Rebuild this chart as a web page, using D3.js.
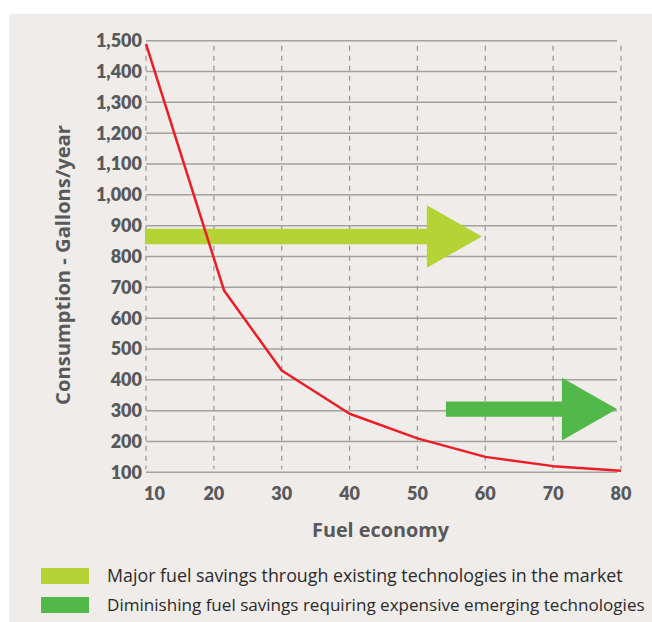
<!DOCTYPE html>
<html>
<head>
<meta charset="utf-8">
<script src="https://cdn.jsdelivr.net/npm/d3@7"></script>
<style>
  html, body { margin: 0; padding: 0; background: #ffffff; }
  svg { display: block; }
  text { font-family: Lato, "Open Sans", sans-serif; }
</style>
</head>
<body>
<svg id="chart" width="652" height="622"></svg>
<script>
// ---- data ----
const fuelEconomy = [10, 21.5, 30, 40, 50, 60, 70, 80];
const consumption = [1490, 690, 430, 290, 210, 150, 120, 105];
const xTicks = [10, 20, 30, 40, 50, 60, 70, 80];
const yTicks = [100, 200, 300, 400, 500, 600, 700, 800, 900, 1000, 1100, 1200, 1300, 1400, 1500];
const arrowStartX = [9.85, 54.2];
const arrowEndX = [59.5, 79.4];
const arrowY = [865, 305];
const legendLabels = [
  "Major fuel savings through existing technologies in the market",
  "Diminishing fuel savings requiring expensive emerging technologies"
];
const legendColors = ["#b5d334", "#52b84a"];
const xTitle = "Fuel economy";
const yTitle = "Consumption - Gallons/year";

// ---- drawing ----
const svg = d3.select("#chart");
svg.append("rect").attr("x", 9).attr("y", 14).attr("width", 643).attr("height", 608).attr("fill", "#efecea");

const x = d3.scaleLinear().domain([10, 80]).range([146, 621]);
const y = d3.scaleLinear().domain([100, 1500]).range([472.3, 40.7]);
const textColor = "#58595b";

// scale font size of a text so its width matches a target width
function fitWidth(sel, target) {
  sel.each(function() {
    const fs = parseFloat(this.getAttribute("font-size"));
    const w = this.getComputedTextLength();
    if (w > 0) this.setAttribute("font-size", (fs * target / w).toFixed(2));
  });
}

// horizontal gridlines
svg.append("g").selectAll("line").data(yTicks).join("line")
  .attr("x1", x(10)).attr("x2", 617)
  .attr("y1", d => y(d)).attr("y2", d => y(d))
  .attr("stroke", "#a2a2a2").attr("stroke-width", 1.5);

// vertical dashed gridlines
svg.append("g").selectAll("line").data(xTicks).join("line")
  .attr("x1", d => x(d)).attr("x2", d => x(d))
  .attr("y1", y(1500) + 5).attr("y2", y(100) - 3)
  .attr("stroke", "#9c9c9c").attr("stroke-width", 1.3)
  .attr("stroke-dasharray", "5,5");

// y axis labels
const fmt = d3.format(",");
svg.append("g").selectAll("text").data(yTicks).join("text")
  .attr("x", 142).attr("y", d => y(d)).attr("dy", "0.36em")
  .attr("text-anchor", "end")
  .attr("font-size", 18).attr("font-weight", 800).attr("fill", textColor)
  .text(d => fmt(d));

// x axis labels
svg.append("g").selectAll("text").data(xTicks).join("text")
  .attr("x", (d, i) => i === 0 ? x(d) - 2 : x(d))
  .attr("y", 500)
  .attr("text-anchor", (d, i) => i === 0 ? "start" : "middle")
  .attr("font-size", 18).attr("font-weight", 800).attr("fill", textColor)
  .text(d => d);

// axis titles
const xt = svg.append("text")
  .attr("x", 380.5).attr("y", 537)
  .attr("text-anchor", "middle")
  .style("font-family", "'Open Sans', sans-serif")
  .attr("font-size", 19).attr("font-weight", 700).attr("fill", textColor)
  .text(xTitle);
fitWidth(xt, 137);

const yt = svg.append("text")
  .attr("transform", "translate(70,265) rotate(-90)")
  .attr("text-anchor", "middle")
  .style("font-family", "'Open Sans', sans-serif")
  .attr("font-size", 19).attr("font-weight", 700).attr("fill", textColor)
  .text(yTitle);
fitWidth(yt, 280);

// arrows
const shaftHalf = 7.7, headHalf = 31.3, headLen = 55;
const arrows = arrowY.map((v, i) => ({ x0: arrowStartX[i], x1: arrowEndX[i], y: v, color: legendColors[i] }));
svg.append("g").selectAll("path").data(arrows).join("path")
  .attr("d", d => {
    const X0 = x(d.x0), X1 = x(d.x1), Y = y(d.y), XB = X1 - headLen;
    return `M${X0},${Y - shaftHalf}L${XB},${Y - shaftHalf}L${XB},${Y - headHalf}L${X1},${Y}` +
           `L${XB},${Y + headHalf}L${XB},${Y + shaftHalf}L${X0},${Y + shaftHalf}Z`;
  })
  .attr("fill", d => d.color);

// red line
const line = d3.line().x((d, i) => x(fuelEconomy[i])).y(d => y(d));
svg.append("path").datum(consumption)
  .attr("d", line)
  .attr("fill", "none").attr("stroke", "#ee1c25").attr("stroke-width", 2.5)
  .attr("stroke-linejoin", "round");

// legend
const legendWidths = [516, 538];
const leg = svg.append("g").selectAll("g").data(legendLabels).join("g")
  .attr("transform", (d, i) => `translate(41,${568 + i * 29})`);
leg.append("rect").attr("width", 48).attr("height", 16).attr("fill", (d, i) => legendColors[i]);
leg.append("text").attr("x", 66).attr("y", 14)
  .style("font-family", "'Open Sans', sans-serif")
  .attr("font-size", 16).attr("fill", "#2b2a2b")
  .text(d => d)
  .each(function(d, i) { fitWidth(d3.select(this), legendWidths[i]); });
</script>
</body>
</html>
